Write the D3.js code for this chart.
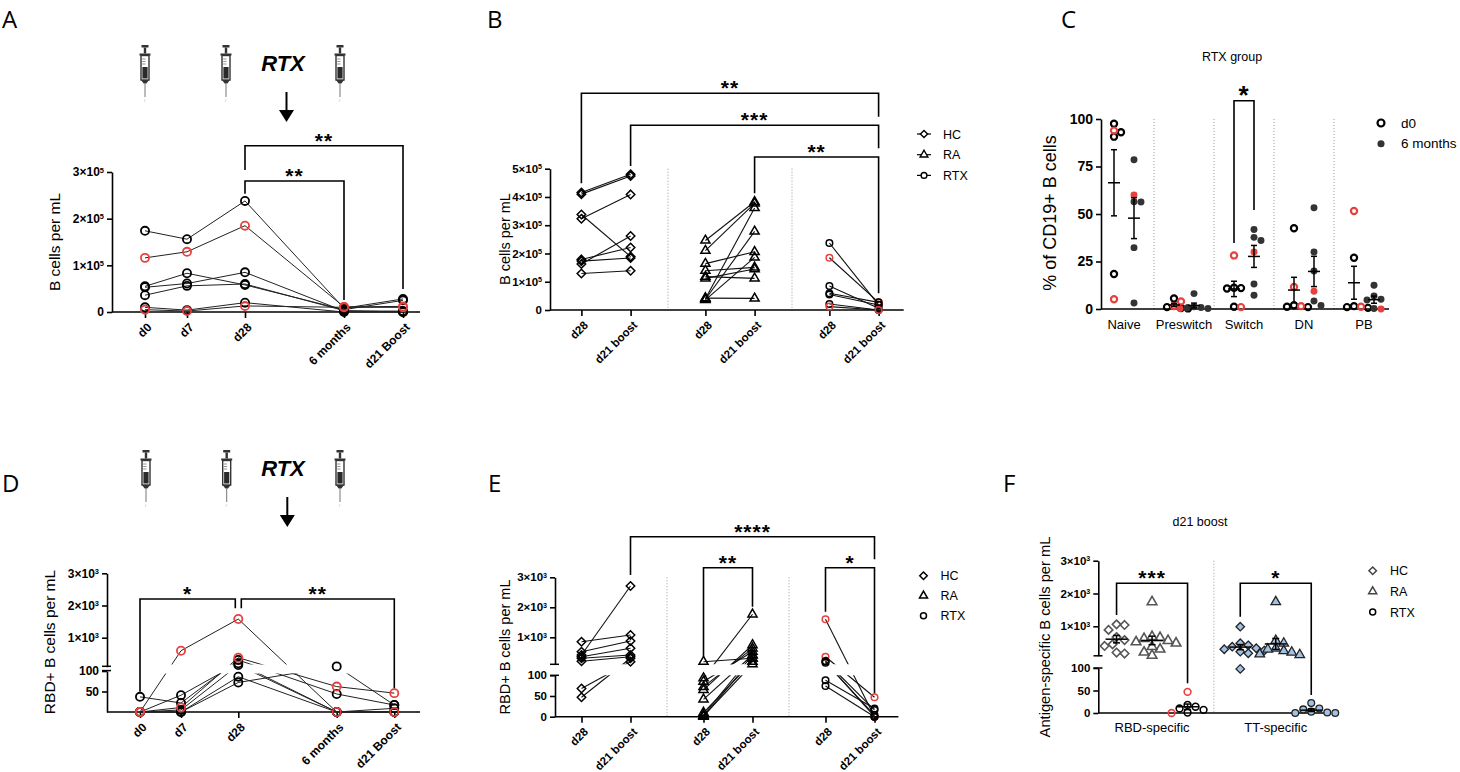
<!DOCTYPE html>
<html>
<head>
<meta charset="utf-8">
<script src="https://cdn.jsdelivr.net/npm/d3@7"></script>
<style>
  body { margin: 0; background: #fff; }
  svg { display: block; }
</style>
</head>
<body>
<svg id="fig" width="1460" height="772"></svg>
<script>
// ---------- data ----------

// A: total B cells per mL in RTX patients
const aTimepoints = ["d0", "d7", "d28", "6 months", "d21 Boost"];
const aYTicks = [0, 100000, 200000, 300000];
const aSeries = [
  [174000, 156000, 238000, 8000, 28000],
  [116000, 129000, 185000, 11000, 12000],
  [55000, 83000, 58000, 5000, 25000],
  [53000, 61000, 85000, 2000, 2000],
  [36000, 56000, 60000, 3000, 0],
  [10000, 4000, 20000, 0, 0],
  [5000, 2000, 13000, 10000, 10000]
];
const aRed = [false, true, false, false, false, false, true];

// B: B cells per mL, d28 vs d21 boost
const bCohorts = ["HC", "RA", "RTX"];
const bVisits = ["d28", "d21 boost"];
const bYTicks = [0, 100000, 200000, 300000, 400000, 500000];
const bHC = [[416000, 480000], [410000, 474000], [338000, 189000], [323000, 409000],
             [179000, 221000], [173000, 184000], [163000, 262000], [129000, 139000]];
const bRA = [[246000, 383000], [210000, 377000], [164000, 206000], [139000, 151000], [118000, 112000],
             [112000, 145000], [40000, 361000], [38000, 278000], [36000, 186000], [42000, 41000]];
const bRTX = [[237000, 18000], [185000, 27000], [85000, 6000], [59000, 27000],
              [55000, 18000], [21000, 0], [12000, 0]];
const bRTXRed = [false, true, false, false, false, false, true];

// C: % of CD19+ B cells, RTX group
const cSubsets = ["Naive", "Preswitch", "Switch", "DN", "PB"];
const cTimes = ["d0", "6 months"];
const cYTicks = [0, 25, 50, 75, 100];
const cD0 = [
  [97.5, 93, 90.7, 18.4, 93.9, 5.1],
  [5.5, 1.0, 0.5, 0.3, 4.0, 1.5],
  [11.2, 11.0, 10.8, 1.2, 1.0, 28.2],
  [42.5, 2.0, 1.2, 1.0, 1.5, 11.6],
  [27, 1.5, 1.0, 0.6, 1.2, 51.6]
];
const cD0Red = [false, false, false, false, true, true];
const cM6 = [
  [78.6, 56.5, 56.3, 32.3, 3.2, 60],
  [8.1, 1.2, 0.5, 0.3, 0.8, 0.2],
  [41.8, 37.7, 36.1, 13.2, 7.2, 30],
  [53.3, 30, 20, 4.2, 1.8, 9.3],
  [12.5, 6.8, 5.1, 4.7, 0.3, 0]
];
const cM6Red = [false, false, false, false, false, true];

// D: RBD+ B cells per mL in RTX patients
const dTimepoints = ["d0", "d7", "d28", "6 months", "d21 Boost"];
const dLowTicks = [50, 100];
const dHighTicks = [1000, 2000, 3000];
const dSeries = [
  [0, 596, 1580, 0, 0],
  [0, 11, 379, 62, 46],
  [37, 22, 308, 44, 17],
  [0, 41, 205, 0, 9],
  [0, 5, 150, 0, 0],
  [0, 0, 86, 0, 0],
  [0, 0, 72, 110, 17]
];
const dRed = [true, true, false, false, false, false, false];

// E: RBD+ B cells per mL, d28 vs d21 boost
const eLowTicks = [0, 50, 100];
const eHighTicks = [1000, 2000, 3000];
const eHC = [[853, 1077], [520, 877], [410, 2710], [353, 633], [300, 410], [200, 353], [68, 187], [47, 300]];
const eRA = [[187, 300], [93, 1767], [85, 520], [72, 633], [65, 743], [42, 410], [10, 187], [4, 410], [0, 300], [2, 110]];
const eRTX = [[1600, 0], [353, 47], [210, 16], [190, 0], [153, 4], [88, 20], [74, 0]];
const eRTXRed = [true, true, false, false, false, false, false];

// F: antigen-specific B cells per mL at d21 boost
const fAntigens = ["RBD-specific", "TT-specific"];
const fCohorts = ["HC", "RA", "RTX"];
const fRBD = [
  [1060, 1040, 890, 670, 580, 450, 400, 200, 170],
  [1743, 683, 650, 620, 561, 520, 482, 378, 299, 207, 110],
  [47, 18, 14, 10, 7, 1, 0]
];
const fTT = [
  [988, 482, 420, 378, 330, 299, 260, 226, 177, 98],
  [1743, 561, 482, 330, 299, 250, 207, 150, 130],
  [22, 10, 8, 3, 1, 0, 0]
];
const fRTXRed = [true, false, false, false, false, false, true];

// ---------- helpers ----------
const svg = d3.select("#fig");
const FONT = "'Liberation Sans', Arial, Helvetica, sans-serif";
const LETTER_FONT = "'Open Sans', 'Noto Sans', sans-serif";
const RED = "#e8403d";
const BLUE = "#a2c1e4";
const DARK = "#333";

const diamondType = {
  draw(ctx, size) {
    const r = Math.sqrt(size / 2);
    ctx.moveTo(0, -r); ctx.lineTo(r, 0); ctx.lineTo(0, r); ctx.lineTo(-r, 0); ctx.closePath();
  }
};
const shapeTypes = { circle: d3.symbolCircle, diamond: diamondType, triangle: d3.symbolTriangle };

function mark(x, y, shape, size, fill, stroke, sw) {
  svg.append("path")
    .attr("transform", `translate(${x},${y})`)
    .attr("d", d3.symbol().type(shapeTypes[shape]).size(size)())
    .attr("fill", fill)
    .attr("stroke", stroke)
    .attr("stroke-width", sw);
}

function text(x, y, str, o = {}) {
  return svg.append("text")
    .attr("x", x).attr("y", y)
    .attr("font-family", o.family || FONT)
    .attr("font-size", o.size || 12)
    .attr("font-weight", o.weight || "normal")
    .attr("font-style", o.style || "normal")
    .attr("text-anchor", o.anchor || "start")
    .attr("fill", "#000")
    .text(str);
}

function vText(cx, cy, str, size) {
  svg.append("text")
    .attr("transform", `translate(${cx},${cy}) rotate(-90)`)
    .attr("text-anchor", "middle")
    .attr("dy", "0.35em")
    .attr("font-family", FONT)
    .attr("font-size", size)
    .text(str);
}

function hLine(x1, x2, y) {
  svg.append("line").attr("x1", x1).attr("x2", x2).attr("y1", y).attr("y2", y)
    .attr("stroke", "#000").attr("stroke-width", 1.6);
}

function dotted(x, y1, y2) {
  svg.append("line").attr("x1", x).attr("x2", x).attr("y1", y1).attr("y2", y2)
    .attr("stroke", "#999").attr("stroke-width", 1).attr("stroke-dasharray", "1,2");
}

// "3×10⁵" style labels
function sciLabel(t, v) {
  t.text(null);
  if (v < 1000) { t.text(v); return; }
  const e = Math.floor(Math.log10(v));
  const m = Math.round(v / Math.pow(10, e));
  t.append("tspan").text(m + "×10");
  t.append("tspan").attr("dy", "-0.5em").attr("font-size", "0.62em").text(e);
}

function yAxis(x, scale, ticks, fs) {
  const g = svg.append("g")
    .attr("transform", `translate(${x},0)`)
    .call(d3.axisLeft(scale).tickValues(ticks).tickSize(5).tickSizeOuter(0).tickPadding(3));
  g.attr("font-family", FONT).attr("font-size", fs).attr("font-weight", "bold");
  g.select(".domain").attr("stroke", "#000").attr("stroke-width", 1.6);
  g.selectAll(".tick line").attr("stroke", "#000").attr("stroke-width", 1.6);
  g.selectAll(".tick text").attr("fill", "#000").each(function (d) { sciLabel(d3.select(this), d); });
  return g;
}

// category ticks with rotated labels
function xTicks(scale, y, fs, fmt) {
  const ax = d3.axisBottom(scale).tickSize(6).tickSizeOuter(0);
  if (fmt) ax.tickFormat(fmt);
  const g = svg.append("g").attr("transform", `translate(0,${y})`).call(ax);
  g.select(".domain").remove();
  g.attr("font-family", FONT).attr("font-size", fs).attr("font-weight", "bold");
  g.selectAll(".tick line").attr("stroke", "#000").attr("stroke-width", 1.6);
  g.selectAll(".tick text")
    .attr("fill", "#000").attr("text-anchor", "end")
    .attr("x", 0).attr("y", 0).attr("dy", "0.35em")
    .attr("transform", "translate(4,13) rotate(-45)");
  return g;
}

// category labels, horizontal, regular weight
function xLabels(scale, y, fs, pad) {
  const g = svg.append("g").attr("transform", `translate(0,${y})`)
    .call(d3.axisBottom(scale).tickSize(0).tickPadding(pad));
  g.select(".domain").remove();
  g.attr("font-family", FONT).attr("font-size", fs);
  g.selectAll(".tick text").attr("fill", "#000");
}

function stars(x, cy, str, size) {
  text(x, cy + 0.6 * size, str, { size, weight: "bold", anchor: "middle" })
    .attr("letter-spacing", 1);
}

function bracket(x1, x2, top, b1, b2, str, size = 21, gap = 10.5) {
  svg.append("path")
    .attr("d", `M${x1},${b1}V${top}H${x2}V${b2}`)
    .attr("fill", "none").attr("stroke", "#000").attr("stroke-width", 1.6);
  stars((x1 + x2) / 2, top - gap, str, size);
}

function letter(x, y, str) {
  text(x, y, str, { family: LETTER_FONT, size: 24 });
}

function syringe(cx, top) {
  const g = svg.append("g").attr("transform", `translate(${cx},${top})`);
  g.append("rect").attr("x", -3.5).attr("y", 0).attr("width", 7).attr("height", 2.5).attr("fill", DARK);
  g.append("rect").attr("x", -1.2).attr("y", 2.5).attr("width", 2.4).attr("height", 6).attr("fill", DARK);
  g.append("rect").attr("x", -5.5).attr("y", 8.5).attr("width", 11).attr("height", 2).attr("fill", DARK);
  g.append("rect").attr("x", -4).attr("y", 10.5).attr("width", 8).attr("height", 24.5)
    .attr("fill", "#fff").attr("stroke", DARK).attr("stroke-width", 1.4);
  g.append("rect").attr("x", -2.6).attr("y", 22).attr("width", 5.2).attr("height", 11.5).attr("fill", "#2a2a2a");
  [14, 16.5, 19].forEach(v => g.append("line").attr("x1", -2.8).attr("x2", 0.5).attr("y1", v).attr("y2", v)
    .attr("stroke", "#777").attr("stroke-width", 0.8));
  g.append("path").attr("d", "M-4,35L-1.4,38.5H1.4L4,35Z").attr("fill", DARK);
  g.append("line").attr("x1", 0).attr("x2", 0).attr("y1", 38.5).attr("y2", 52)
    .attr("stroke", "#666").attr("stroke-width", 0.9);
  g.append("line").attr("x1", 0).attr("x2", -0.8).attr("y1", 54).attr("y2", 57)
    .attr("stroke", "#ddd").attr("stroke-width", 1);
}

function downArrow(x, y1, y2) {
  svg.append("line").attr("x1", x).attr("x2", x).attr("y1", y1).attr("y2", y2 - 11)
    .attr("stroke", "#000").attr("stroke-width", 2);
  svg.append("path").attr("d", `M${x - 7.5},${y2 - 12}H${x + 7.5}L${x},${y2}Z`).attr("fill", "#000");
}

function clipBand(id, gapTop, gapBottom) {
  const cp = svg.append("clipPath").attr("id", id);
  cp.append("rect").attr("x", 0).attr("y", 0).attr("width", 1460).attr("height", gapTop);
  cp.append("rect").attr("x", 0).attr("y", gapBottom).attr("width", 1460).attr("height", 772 - gapBottom);
  return `url(#${id})`;
}

// spread overlapping points sideways, GraphPad style
function dodge(vals, x0, yScale, minD, step) {
  const pts = vals.map((v, i) => ({ i, v, y: yScale(v), x: x0 }));
  const placed = [];
  pts.slice().sort((a, b) => a.y - b.y).forEach(p => {
    for (let k = 0; k < 30; k++) {
      const off = k === 0 ? 0 : (k % 2 ? 1 : -1) * Math.ceil(k / 2) * step;
      if (placed.every(q => Math.hypot(q.x - (x0 + off), q.y - p.y) >= minD)) { p.x = x0 + off; break; }
    }
    placed.push(p);
  });
  return pts;
}

function meanSem(x, vals, yScale, half, cap) {
  const m = d3.mean(vals);
  const se = d3.deviation(vals) / Math.sqrt(vals.length);
  const g = svg.append("g").attr("stroke", "#000").attr("stroke-width", 1.5);
  const lo = Math.max(0, m - se), hi = m + se;
  g.append("line").attr("x1", x - half).attr("x2", x + half).attr("y1", yScale(m)).attr("y2", yScale(m));
  g.append("line").attr("x1", x).attr("x2", x).attr("y1", yScale(lo)).attr("y2", yScale(hi));
  [lo, hi].forEach(v => g.append("line").attr("x1", x - cap).attr("x2", x + cap)
    .attr("y1", yScale(v)).attr("y2", yScale(v)));
}

const lineGen = d3.line();

// ---------- panel A ----------
letter(2, 28, "A");
[145, 226, 340].forEach(x => syringe(x, 45));
text(283, 71, "RTX", { size: 22, weight: "bold", style: "italic", anchor: "middle" });
downArrow(286.5, 92, 122);

const aX = d3.scaleOrdinal().domain(aTimepoints).range([145, 187, 245, 344, 403]);
const aY = d3.scaleLinear().domain([0, 300000]).range([312, 172]);
hLine(112, 420, 312);
yAxis(112, aY, aYTicks, 12);
xTicks(aX, 312, 12);
vText(55, 242, "B cells per mL", 15.5);

aSeries.forEach(s => svg.append("path")
  .attr("d", lineGen(s.map((v, j) => [aX(aTimepoints[j]), aY(v)])))
  .attr("fill", "none").attr("stroke", "#222").attr("stroke-width", 1));
[false, true].forEach(red => aSeries.forEach((s, i) => {
  if (aRed[i] !== red) return;
  s.forEach((v, j) => mark(aX(aTimepoints[j]), aY(v), "circle", 52, "none", red ? RED : "#000", 1.8));
}));

bracket(aX("d28"), aX("d21 Boost"), 145.7, 170, 289, "**");
bracket(aX("d28"), aX("6 months"), 181, 193.7, 300, "**");

// ---------- panel B ----------
letter(487, 28, "B");
const bBand = d3.scaleBand().domain(bCohorts).range([544, 916]);
const bInner = d3.scalePoint().domain(bVisits).range([-24.6, 24.6]);
const bPos = (c, v) => bBand(c) + bBand.bandwidth() / 2 + bInner(v);
const bKeys = bCohorts.flatMap(c => bVisits.map(v => c + "|" + v));
const bX = d3.scaleOrdinal().domain(bKeys).range(bKeys.map(k => bPos(...k.split("|"))));
const bY = d3.scaleLinear().domain([0, 500000]).range([310, 168.7]);

bCohorts.slice(1).forEach(c => dotted(bBand(c), 168.7, 310));
hLine(550, 903.7, 310);
yAxis(550, bY, bYTicks, 11.5);
xTicks(bX, 310, 11.5, k => k.split("|")[1]);
vText(505, 239, "B cells per mL", 14.5);

const bGroups = [
  { cohort: "HC", pairs: bHC, shape: "diamond", size: 36, red: bHC.map(() => false) },
  { cohort: "RA", pairs: bRA, shape: "triangle", size: 36, red: bRA.map(() => false) },
  { cohort: "RTX", pairs: bRTX, shape: "circle", size: 34, red: bRTXRed }
];
bGroups.forEach(gr => gr.pairs.forEach(p => svg.append("path")
  .attr("d", lineGen(p.map((v, j) => [bPos(gr.cohort, bVisits[j]), bY(v)])))
  .attr("fill", "none").attr("stroke", "#111").attr("stroke-width", 1.1)));
bGroups.forEach(gr => gr.pairs.forEach((p, i) => p.forEach((v, j) =>
  mark(bPos(gr.cohort, bVisits[j]), bY(v), gr.shape, gr.size, "none", gr.red[i] ? RED : "#000", 1.5))));

bracket(bPos("HC", "d28"), bPos("RTX", "d21 boost"), 93.3, 183.3, 116.7, "**");
bracket(bPos("HC", "d21 boost"), bPos("RTX", "d21 boost"), 125.3, 166, 148.3, "***");
bracket(bPos("RA", "d21 boost"), bPos("RTX", "d21 boost"), 157, 193.3, 293.3, "**");

// legend B
bGroups.forEach((gr, i) => {
  const y = 134 + i * 20.7;
  svg.append("line").attr("x1", 917).attr("x2", 931).attr("y1", y).attr("y2", y)
    .attr("stroke", "#000").attr("stroke-width", 1.2);
  mark(924, y, gr.shape, 26, "#fff", "#000", 1.4);
  text(943, y + 4.5, gr.cohort, { size: 12.5 });
});

// ---------- panel C ----------
letter(1061, 28, "C");
text(1232, 61, "RTX group", { size: 12.5, anchor: "middle" });
const cBand = d3.scaleBand().domain(cSubsets).range([1094, 1394]);
const cInner = d3.scalePoint().domain(cTimes).range([-10, 10]);
const cPos = (s, t) => cBand(s) + cBand.bandwidth() / 2 + cInner(t);
const cY = d3.scaleLinear().domain([0, 100]).range([309, 119]);

cSubsets.slice(1).forEach(s => dotted(cBand(s), 119, 309));
hLine(1101, 1389, 309);
yAxis(1101, cY, cYTicks, 14);
xLabels(cBand, 309, 13, 11);
vText(1050, 213, "% of CD19+ B cells", 18);

cSubsets.forEach((s, si) => {
  dodge(cD0[si], cPos(s, "d0"), cY, 6, 3.5).forEach(p =>
    mark(p.x, p.y, "circle", 30, "none", cD0Red[p.i] ? RED : "#000", 2.2));
  dodge(cM6[si], cPos(s, "6 months"), cY, 6, 3.5).forEach(p =>
    mark(p.x, p.y, "circle", 38, cM6Red[p.i] ? RED : DARK, "none", 0));
  meanSem(cPos(s, "d0"), cD0[si], cY, 6, 3);
  meanSem(cPos(s, "6 months"), cM6[si], cY, 6, 3);
});
bracket(cPos("Switch", "d0"), cPos("Switch", "6 months"), 100.7, 243, 210, "*", 26, 12.7);

mark(1381, 123, "circle", 38, "none", "#000", 2.2);
mark(1381, 143.7, "circle", 40, DARK, "none", 0);
text(1401, 127.5, "d0", { size: 13.5 });
text(1401, 148.2, "6 months", { size: 13.5 });

// ---------- panel D ----------
letter(2, 492, "D");
[146, 226.7, 340].forEach(x => syringe(x, 450));
text(283, 476, "RTX", { size: 22, weight: "bold", style: "italic", anchor: "middle" });
downArrow(287.3, 497, 527);

const dX = d3.scaleOrdinal().domain(dTimepoints).range([140, 181, 238.3, 336.7, 394.3]);
const dLo = d3.scaleLinear().domain([0, 100]).range([712, 671]);
const dHi = d3.scaleLinear().domain([100, 3000]).range([666.7, 573.3]);
const dY = v => (v <= 100 ? dLo(v) : dHi(v));

hLine(107, 420, 712);
yAxis(107, dLo, dLowTicks, 12);
yAxis(107, dHi, dHighTicks, 12);
[666.3, 670.6].forEach(y => svg.append("line").attr("x1", 102).attr("x2", 111).attr("y1", y).attr("y2", y)
  .attr("stroke", "#000").attr("stroke-width", 1.5));
xTicks(dX, 712, 12);
vText(50, 642, "RBD+ B cells per mL", 15.5);

const dClip = clipBand("clipD", 664.5, 673.5);
dSeries.forEach(s => svg.append("path")
  .attr("d", lineGen(s.map((v, j) => [dX(dTimepoints[j]), dY(v)])))
  .attr("clip-path", dClip)
  .attr("fill", "none").attr("stroke", "#222").attr("stroke-width", 1));
[false, true].forEach(red => dSeries.forEach((s, i) => {
  if (dRed[i] !== red) return;
  s.forEach((v, j) => mark(dX(dTimepoints[j]), dY(v), "circle", 52, "none", red ? RED : "#000", 1.8));
}));

bracket(dX("d0"), dX("d28") - 3, 599, 691.7, 608.3, "*");
bracket(dX("d28") + 3, dX("d21 Boost"), 599, 608.3, 688.3, "**");

// ---------- panel E ----------
letter(488, 492, "E");
const eBand = d3.scaleBand().domain(bCohorts).range([545, 911]);
const eInner = d3.scalePoint().domain(bVisits).range([-24.5, 24.5]);
const ePos = (c, v) => eBand(c) + eBand.bandwidth() / 2 + eInner(v);
const eX = d3.scaleOrdinal().domain(bKeys).range(bKeys.map(k => ePos(...k.split("|"))));
const eLo = d3.scaleLinear().domain([0, 100]).range([716.7, 675.3]);
const eHi = d3.scaleLinear().domain([100, 3000]).range([664.3, 577.3]);
const eY = v => (v <= 100 ? eLo(v) : eHi(v));

bCohorts.slice(1).forEach(c => dotted(eBand(c), 577.3, 716.7));
hLine(555, 898.4, 716.7);
yAxis(555, eLo, eLowTicks, 11.5);
yAxis(555, eHi, eHighTicks, 11.5);
[eHi(100), eLo(100)].forEach(y => svg.append("line").attr("x1", 550).attr("x2", 559).attr("y1", y).attr("y2", y)
  .attr("stroke", "#000").attr("stroke-width", 1.5));
xTicks(eX, 716.7, 11.5, k => k.split("|")[1]);
vText(505, 647, "RBD+ B cells per mL", 14.5);

const eGroups = [
  { cohort: "HC", pairs: eHC, shape: "diamond", size: 36, red: eHC.map(() => false) },
  { cohort: "RA", pairs: eRA, shape: "triangle", size: 36, red: eRA.map(() => false) },
  { cohort: "RTX", pairs: eRTX, shape: "circle", size: 34, red: eRTXRed }
];
const eClip = clipBand("clipE", 664.3, 675.3);
eGroups.forEach(gr => gr.pairs.forEach(p => svg.append("path")
  .attr("d", lineGen(p.map((v, j) => [ePos(gr.cohort, bVisits[j]), eY(v)])))
  .attr("clip-path", eClip)
  .attr("fill", "none").attr("stroke", "#111").attr("stroke-width", 1.1)));
eGroups.forEach(gr => gr.pairs.forEach((p, i) => p.forEach((v, j) =>
  mark(ePos(gr.cohort, bVisits[j]), eY(v), gr.shape, gr.size, "none", gr.red[i] ? RED : "#000", 1.5))));

bracket(ePos("HC", "d21 boost"), ePos("RTX", "d21 boost"), 536.7, 575, 559.3, "****");
bracket(ePos("RA", "d28"), ePos("RA", "d21 boost"), 567.7, 656.7, 606.7, "**");
bracket(ePos("RTX", "d28"), ePos("RTX", "d21 boost"), 567.7, 611.7, 693.3, "*");

eGroups.forEach((gr, i) => {
  const y = 575.7 + i * 20;
  mark(923.5, y, gr.shape, 28, "#fff", "#000", 1.5);
  text(940.5, y + 4.5, gr.cohort, { size: 12.5 });
});

// ---------- panel F ----------
letter(1003, 492, "F");
text(1200, 526, "d21 boost", { size: 12.5, anchor: "middle" });
const fBand = d3.scaleBand().domain(fAntigens).range([1090.2, 1337.6]);
const fInner = d3.scalePoint().domain(fCohorts).range([-35.5, 35.5]);
const fPos = (a, c) => fBand(a) + fBand.bandwidth() / 2 + fInner(c);
const fLo = d3.scaleLinear().domain([0, 100]).range([713, 668]);
const fHi = d3.scaleLinear().domain([100, 3000]).range([655.8, 560.7]);
const fY = v => (v <= 100 ? fLo(v) : fHi(v));

dotted(fBand("TT-specific"), 560.7, 713);
hLine(1098.3, 1329, 713);
yAxis(1098.3, fLo, eLowTicks, 11.5);
yAxis(1098.3, fHi, eHighTicks, 11.5);
[fHi(100), fLo(100)].forEach(y => svg.append("line").attr("x1", 1093.5).attr("x2", 1102.5).attr("y1", y).attr("y2", y)
  .attr("stroke", "#000").attr("stroke-width", 1.5));
xLabels(fBand, 713, 13, 10);
vText(1045, 637, "Antigen-specific B cells per mL", 14.7);

const fShapes = ["diamond", "triangle", "circle"];
const fSizes = [36, 40, 36];
[[fAntigens[0], fRBD], [fAntigens[1], fTT]].forEach(([ag, groups], ai) => {
  groups.forEach((vals, ci) => {
    const x0 = fPos(ag, fCohorts[ci]);
    dodge(vals, x0, fY, 7.5, 4).forEach(p => {
      const red = ci === 2 && ai === 0 && fRTXRed[p.i];
      const fill = ai === 1 ? BLUE : "none";
      const stroke = ai === 1 ? "#222" : (red ? RED : (ci === 2 ? "#000" : "#555"));
      mark(p.x, p.y, fShapes[ci], fSizes[ci], fill, stroke, ai === 1 ? 1.3 : 1.6);
    });
    meanSem(x0, vals, fY, 11, 3.5);
  });
});

bracket(fPos("RBD-specific", "HC"), fPos("RBD-specific", "RTX"), 583.3, 615, 683.3, "***");
bracket(fPos("TT-specific", "HC"), fPos("TT-specific", "RTX"), 583.3, 616.7, 695, "*");

fCohorts.forEach((c, i) => {
  const y = 570.7 + i * 20.7;
  mark(1372.7, y, fShapes[i], 28, "#fff", i === 2 ? "#000" : "#444", 1.5);
  text(1390, y + 4.5, c, { size: 12.5 });
});
</script>
</body>
</html>
